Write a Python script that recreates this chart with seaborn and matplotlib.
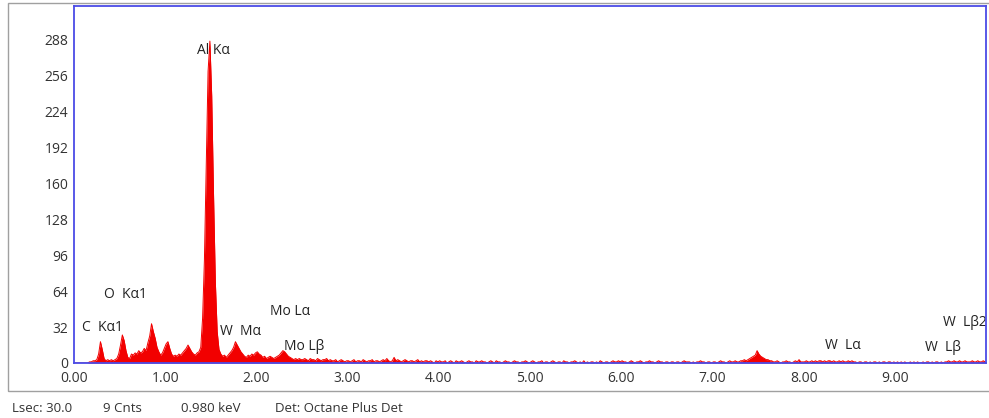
import numpy as np
import pandas as pd
import matplotlib
matplotlib.use("Agg")
import matplotlib.pyplot as plt
from matplotlib.patches import Rectangle
import seaborn as sns

# EDS spectrum, 0.02 keV channels from 0 to 10 keV (counts per channel)
channel_width = 0.02
counts_0_2p5 = [
    0, 0, 0, 0, 0, 0, 0, 0, 1, 1, 2, 2, 3, 8, 19, 12, 4, 2, 3, 2, 3, 2, 3, 4, 8,
    16, 25, 20, 11, 5, 4, 8, 7, 9, 8, 11, 9, 10, 13, 11, 18, 24, 35, 28, 22, 14, 10, 7, 9, 13,
    17, 19, 13, 8, 6, 7, 6, 8, 7, 9, 11, 13, 16, 13, 10, 8, 7, 9, 10, 14, 40, 92, 178, 260, 287,
    238, 150, 72, 28, 12, 8, 6, 7, 5, 7, 9, 11, 14, 19, 16, 13, 10, 8, 6, 5, 7, 6, 8, 7, 9,
    10, 8, 7, 5, 6, 4, 5, 6, 5, 4, 5, 6, 7, 9, 11, 10, 8, 6, 5, 4, 3, 4, 3, 4, 3,
]
counts_2p5_7 = [
    3, 4, 3, 2, 4, 3, 3, 2, 4, 3, 2, 3, 3, 4, 2, 3, 2, 2, 3, 1, 2, 3, 2, 1, 2,
    2, 1, 2, 3, 1, 2, 2, 1, 3, 2, 1, 2, 2, 3, 1, 2, 2, 1, 2, 3, 2, 4, 2, 1, 2,
    5, 2, 3, 2, 1, 2, 3, 2, 1, 2, 2, 1, 2, 3, 1, 2, 1, 2, 2, 1, 2, 1, 0, 2, 1,
    2, 1, 1, 2, 0, 1, 2, 1, 0, 2, 1, 1, 2, 1, 0, 1, 2, 1, 1, 0, 2, 1, 1, 2, 1,
    1, 0, 1, 2, 1, 0, 2, 1, 1, 0, 1, 2, 1, 1, 0, 1, 2, 1, 1, 0, 1, 1, 2, 1, 0,
    1, 2, 1, 0, 1, 1, 2, 0, 1, 1, 0, 1, 2, 1, 0, 1, 1, 0, 2, 1, 1, 0, 1, 1, 2,
    1, 0, 1, 0, 2, 0, 1, 0, 1, 1, 0, 1, 0, 2, 1, 0, 1, 1, 0, 1, 2, 1, 1, 2, 1,
    2, 1, 1, 0, 1, 2, 1, 0, 1, 1, 2, 1, 0, 1, 1, 2, 1, 1, 0, 1, 2, 1, 1, 0, 1,
    1, 0, 1, 1, 0, 1, 1, 0, 1, 2, 1, 1, 1, 0, 1, 0, 1, 1, 2, 1, 1, 0, 1, 1, 0,
]
counts_7_10 = [
    1, 1, 0, 1, 2, 1, 1, 0, 1, 2, 1, 1, 2, 1, 1, 2, 2, 3, 2, 3, 4, 5, 6, 7, 11,
    8, 6, 5, 4, 3, 3, 2, 2, 1, 1, 2, 1, 0, 1, 1, 2, 1, 1, 0, 1, 2, 1, 3, 1, 1,
    1, 2, 1, 1, 2, 1, 2, 1, 2, 2, 1, 2, 1, 2, 2, 1, 2, 1, 1, 2, 1, 2, 1, 1, 2,
    1, 2, 1, 1, 0, 1, 1, 0, 1, 1, 0, 1, 0, 1, 1, 0, 1, 0, 1, 1, 0, 1, 1, 0, 1,
    0, 1, 0, 1, 0, 1, 0, 0, 1, 0, 1, 0, 1, 0, 0, 1, 0, 1, 1, 0, 1, 0, 1, 1, 0,
    1, 0, 1, 1, 2, 1, 1, 2, 1, 1, 2, 1, 1, 2, 1, 1, 1, 2, 1, 1, 2, 1, 1, 2, 1,
]

# Peak identification labels: text, label anchor (keV, counts)
peak_labels = ["Al Kα", "O  Kα1", "C  Kα1", "W  Mα", "Mo Lα", "Mo Lβ", "W  Lα", "W  Lβ", "W  Lβ2"]
label_kev = [1.35, 0.33, 0.09, 1.60, 2.15, 2.30, 8.23, 9.33, 9.53]
label_counts = [279, 61, 32, 28.5, 46, 15, 16, 14, 36.5]

y_ticks = [0, 32, 64, 96, 128, 160, 192, 224, 256, 288]
x_ticks = [0, 1, 2, 3, 4, 5, 6, 7, 8, 9]

footer = ["Lsec: 30.0", "9 Cnts", "0.980 keV", "Det: Octane Plus Det"]

counts = np.array(counts_0_2p5 + counts_2p5_7 + counts_7_10, dtype=float)
n_channels = len(counts)
centers = (np.arange(n_channels) + 0.5) * channel_width
spec = pd.DataFrame({"energy": centers, "counts": counts})

sns.set_theme(style="white")
plt.rcParams["font.family"] = ["Open Sans", "DejaVu Sans"]

fig = plt.figure(figsize=(9.89, 4.18), dpi=100)
ax = fig.add_axes([74 / 989, 1 - 363 / 418, (986 - 74) / 989, (363 - 6) / 418])

spectrum_red = "#f20000"
sns.lineplot(data=spec, x="energy", y="counts",
             color=spectrum_red, linewidth=0.7, ax=ax)
ax.fill_between(spec["energy"], 0, spec["counts"],
                color=spectrum_red, linewidth=0)

ax.set_xlim(0, 10.0)
ax.set_ylim(0, 318.3)
ax.set_xlabel("")
ax.set_ylabel("")
ax.set_xticks(x_ticks)
ax.set_xticklabels([f"{v:.2f}" for v in x_ticks])
ax.set_yticks(y_ticks)
ax.set_yticklabels([str(v) for v in y_ticks])
ax.tick_params(axis="both", which="both", direction="out", length=3, width=0.8,
               color="#888888", labelsize=10, labelcolor="#333333", pad=1)
ax.tick_params(axis="x", pad=3)
for s in ax.spines.values():
    s.set_color("#4b4be6")
    s.set_linewidth(1.3)
    s.set_zorder(3)

for t, xv, yv in zip(peak_labels, label_kev, label_counts):
    ax.text(xv, yv, t, fontsize=10, color="#222222", ha="left", va="center")

# Outer panel frame
fig.patches.append(Rectangle((8 / 989, 1 - 391 / 418), 1.0, (391 - 3) / 418,
                             transform=fig.transFigure, fill=False,
                             edgecolor="#a0a0a0", linewidth=1.0))

footer_x = [12, 103, 181, 275]
for t, px in zip(footer, footer_x):
    fig.text(px / 989, 1 - 408 / 418, t, fontsize=9.5, color="#333333",
             ha="left", va="center")

fig.savefig("out.png", dpi=100)
